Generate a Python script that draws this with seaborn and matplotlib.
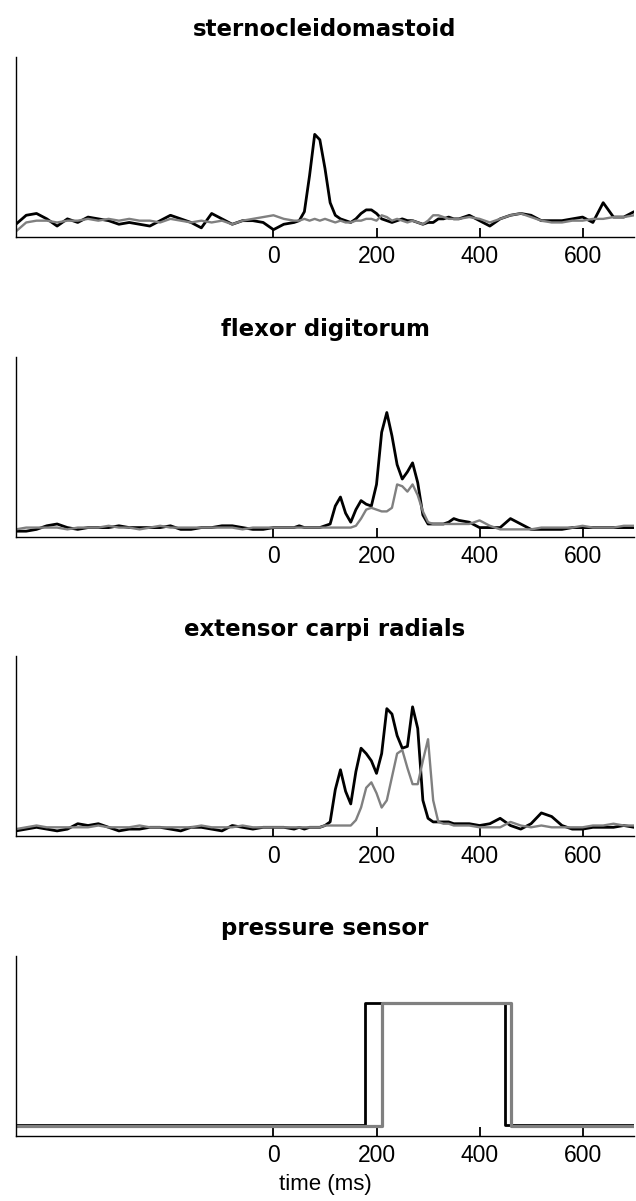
import numpy as np
import matplotlib
matplotlib.use("Agg")
import matplotlib.pyplot as plt
import seaborn as sns

# time grid (ms): coarse before/after the response, finer around it
time = np.concatenate([np.arange(-500, 40, 20), np.arange(40, 360, 10), np.arange(360, 701, 20)])

titles = ["sternocleidomastoid", "flexor digitorum", "extensor carpi radials", "pressure sensor"]
xticks = [0, 200, 400, 600]

# EMG envelopes (arbitrary units)
scm_black = [0.07, 0.12, 0.13, 0.10, 0.06, 0.10, 0.08, 0.11, 0.10, 0.09, 0.07, 0.08, 0.07, 0.06,
             0.09, 0.12, 0.10, 0.08, 0.05, 0.13, 0.10, 0.07, 0.09, 0.09, 0.08, 0.04, 0.07,
             0.08, 0.09, 0.14, 0.34, 0.57, 0.54, 0.38, 0.19, 0.12, 0.10, 0.09, 0.08, 0.10, 0.13,
             0.15, 0.15, 0.13, 0.10, 0.09, 0.08, 0.09, 0.10, 0.09, 0.09, 0.08, 0.07, 0.08, 0.08,
             0.10, 0.10, 0.11, 0.10,
             0.10, 0.12, 0.09, 0.06, 0.10, 0.12, 0.13, 0.12, 0.09, 0.09, 0.09, 0.10, 0.11, 0.08,
             0.19, 0.11, 0.11, 0.14]
scm_gray = [0.03, 0.08, 0.09, 0.09, 0.08, 0.09, 0.09, 0.10, 0.09, 0.10, 0.09, 0.10, 0.09, 0.09,
            0.08, 0.10, 0.09, 0.08, 0.09, 0.08, 0.09, 0.07, 0.09, 0.10, 0.11, 0.12, 0.10,
            0.09, 0.09, 0.10, 0.09, 0.10, 0.09, 0.10, 0.09, 0.08, 0.09, 0.08, 0.08, 0.09, 0.09,
            0.10, 0.10, 0.09, 0.12, 0.11, 0.09, 0.10, 0.09, 0.08, 0.09, 0.08, 0.07, 0.09, 0.12,
            0.12, 0.11, 0.10, 0.10,
            0.10, 0.11, 0.10, 0.08, 0.10, 0.12, 0.13, 0.11, 0.09, 0.08, 0.08, 0.09, 0.09, 0.10,
            0.10, 0.11, 0.11, 0.12]

flex_black = [0.03, 0.03, 0.04, 0.06, 0.07, 0.05, 0.04, 0.05, 0.05, 0.05, 0.06, 0.05, 0.05, 0.05,
              0.05, 0.06, 0.04, 0.04, 0.05, 0.05, 0.06, 0.06, 0.05, 0.04, 0.04, 0.05, 0.05,
              0.05, 0.06, 0.05, 0.05, 0.05, 0.05, 0.06, 0.07, 0.17, 0.22, 0.13, 0.08, 0.15, 0.20,
              0.18, 0.17, 0.29, 0.58, 0.69, 0.56, 0.40, 0.32, 0.36, 0.41, 0.30, 0.12, 0.07, 0.07,
              0.07, 0.07, 0.08, 0.10,
              0.09, 0.08, 0.05, 0.05, 0.05, 0.10, 0.07, 0.04, 0.04, 0.04, 0.04, 0.05, 0.05, 0.05,
              0.05, 0.05, 0.05, 0.05]
flex_gray = [0.04, 0.05, 0.05, 0.05, 0.05, 0.04, 0.05, 0.05, 0.05, 0.06, 0.05, 0.05, 0.04, 0.05,
             0.06, 0.05, 0.05, 0.05, 0.05, 0.05, 0.05, 0.05, 0.04, 0.05, 0.05, 0.05, 0.05,
             0.05, 0.05, 0.05, 0.05, 0.05, 0.05, 0.05, 0.05, 0.05, 0.05, 0.05, 0.05, 0.06, 0.10,
             0.15, 0.16, 0.15, 0.14, 0.14, 0.16, 0.29, 0.28, 0.25, 0.29, 0.23, 0.14, 0.08, 0.07,
             0.07, 0.07, 0.07, 0.07,
             0.07, 0.07, 0.09, 0.06, 0.04, 0.04, 0.04, 0.04, 0.05, 0.05, 0.05, 0.05, 0.06, 0.05,
             0.05, 0.05, 0.06, 0.06]

ext_black = [0.03, 0.04, 0.05, 0.04, 0.03, 0.04, 0.07, 0.06, 0.07, 0.05, 0.03, 0.04, 0.04, 0.05,
             0.05, 0.04, 0.03, 0.05, 0.05, 0.04, 0.03, 0.06, 0.05, 0.04, 0.05, 0.05, 0.05,
             0.04, 0.05, 0.04, 0.05, 0.05, 0.05, 0.06, 0.08, 0.26, 0.37, 0.25, 0.18, 0.36, 0.49,
             0.46, 0.42, 0.35, 0.46, 0.71, 0.68, 0.56, 0.49, 0.50, 0.72, 0.60, 0.20, 0.10, 0.08,
             0.08, 0.08, 0.08, 0.07,
             0.07, 0.07, 0.06, 0.07, 0.10, 0.06, 0.04, 0.07, 0.13, 0.11, 0.06, 0.04, 0.04, 0.05,
             0.05, 0.05, 0.06, 0.05]
ext_gray = [0.04, 0.05, 0.06, 0.05, 0.05, 0.05, 0.05, 0.05, 0.06, 0.05, 0.05, 0.05, 0.06, 0.05,
            0.05, 0.05, 0.05, 0.05, 0.06, 0.05, 0.05, 0.05, 0.06, 0.05, 0.05, 0.05, 0.05,
            0.05, 0.05, 0.05, 0.05, 0.05, 0.05, 0.06, 0.06, 0.06, 0.06, 0.06, 0.06, 0.09, 0.16,
            0.27, 0.30, 0.24, 0.16, 0.20, 0.33, 0.46, 0.48, 0.38, 0.29, 0.29, 0.42, 0.54, 0.20,
            0.08, 0.07, 0.07, 0.06,
            0.06, 0.06, 0.05, 0.05, 0.05, 0.08, 0.06, 0.05, 0.06, 0.05, 0.05, 0.05, 0.05, 0.06,
            0.06, 0.07, 0.06, 0.06]

# pressure sensor: on/off steps
press_t_black = [-500, 177, 177, 450, 450, 700]
press_black = [0.06, 0.06, 0.74, 0.74, 0.06, 0.06]
press_t_gray = [-500, 211, 211, 462, 462, 700]
press_gray = [0.055, 0.055, 0.74, 0.74, 0.055, 0.055]

sns.set_style("ticks")
plt.rcParams["font.family"] = ["DejaVu Sans"]
plt.rcParams["text.color"] = "black"
plt.rcParams["axes.labelcolor"] = "black"

fig, axes = plt.subplots(4, 1, figsize=(6.36, 12.01), dpi=100)
fig.subplots_adjust(left=0.025, right=0.997, top=0.9525, bottom=0.0541, hspace=0.667)

emg = [(scm_black, scm_gray), (flex_black, flex_gray), (ext_black, ext_gray)]
for ax, (blk, gry) in zip(axes[:3], emg):
    sns.lineplot(x=time, y=blk, color="black", linewidth=2.0, ax=ax)
    sns.lineplot(x=time, y=gry, color="#808080", linewidth=1.7, ax=ax)

ax = axes[3]
sns.lineplot(x=press_t_black, y=press_black, color="black", linewidth=2.0,
             estimator=None, sort=False, ax=ax)
sns.lineplot(x=press_t_gray, y=press_gray, color="#808080", linewidth=2.3,
             estimator=None, sort=False, ax=ax)

for i, (ax, title) in enumerate(zip(axes, titles)):
    ax.set_xlim(-500, 700)
    ax.set_ylim(0, 1)
    ax.set_yticks([])
    ax.set_xticks(xticks)
    ax.set_xticklabels([str(t) for t in xticks], family="Liberation Sans")
    ax.set_title(title, fontsize=16.5, fontweight="bold", pad=15, color="black")
    for s in ["top", "right"]:
        ax.spines[s].set_visible(False)
    for s in ["left", "bottom"]:
        ax.spines[s].set_linewidth(1.0)
        ax.spines[s].set_color("black")
    ax.tick_params(axis="x", direction="in", length=6.5, width=1.3, color="black",
                   labelcolor="black", labelsize=16.5, pad=6)
    ax.set_xlabel("")

axes[3].set_xlabel("time (ms)", fontsize=16, family="Liberation Sans", labelpad=5)

fig.savefig("out.png", dpi=100)
